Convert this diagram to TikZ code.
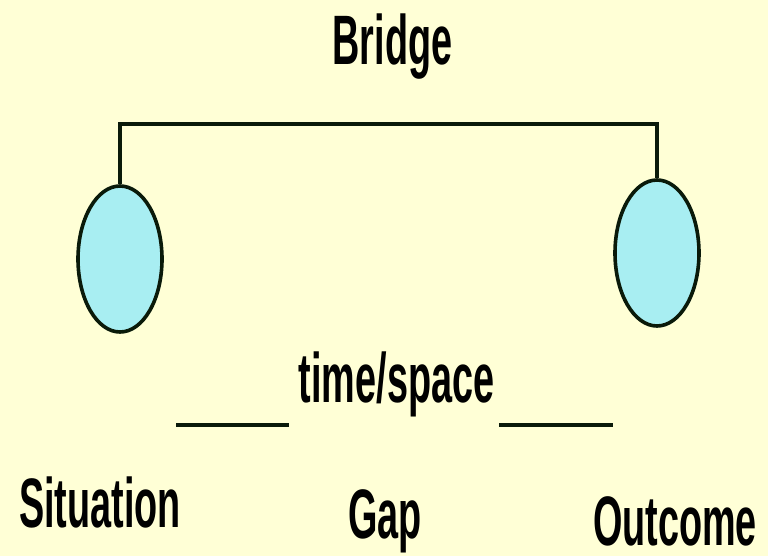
\documentclass[tikz,border=0pt]{standalone}
\usepackage{fontspec}
\newfontfamily\labelfont[FakeStretch=0.54]{Liberation Sans Bold}
\usetikzlibrary{shapes.geometric}
\definecolor{bgyellow}{HTML}{FFFFD6}
\definecolor{cyanfill}{HTML}{A8EEF2}
\definecolor{outline}{HTML}{0A1A0A}
\begin{document}
\begin{tikzpicture}[x=1pt,y=-1pt,
  lbl/.style={anchor=base,inner sep=0pt,font=\labelfont\fontsize{70}{80}\selectfont},
  pod/.style={ellipse,draw=outline,fill=cyanfill,line width=3.6pt,minimum width=84pt,minimum height=146pt,inner sep=0pt},
  bar/.style={line width=3.8pt,draw=outline}]
\useasboundingbox[fill=bgyellow] (0,0) rectangle (768,556);
\node[lbl] (bridge) at (392.5,65) {Bridge};
\node[pod] (L) at (120,259) {};
\node[pod] (R) at (657,253) {};
\coordinate (tl) at (L.north |- 0,124);
\coordinate (tr) at (R.north |- 0,124);
\draw[bar] (L.north) -- (tl) -- (tr) -- (R.north);
\node[lbl] (ts) at (396.5,402) {time/space};
\coordinate (g1a) at (176,425);
\coordinate (g1b) at (289,425);
\coordinate (g2a) at (499,425);
\coordinate (g2b) at (613,425);
\draw[bar] (g1a) -- (g1b);
\draw[bar] (g2a) -- (g2b);
\node[lbl] (sit) at (100,527) {Situation};
\node[lbl] (gap) at (385,538) {Gap};
\node[lbl] (out) at (675,545) {Outcome};
\end{tikzpicture}
\end{document}
